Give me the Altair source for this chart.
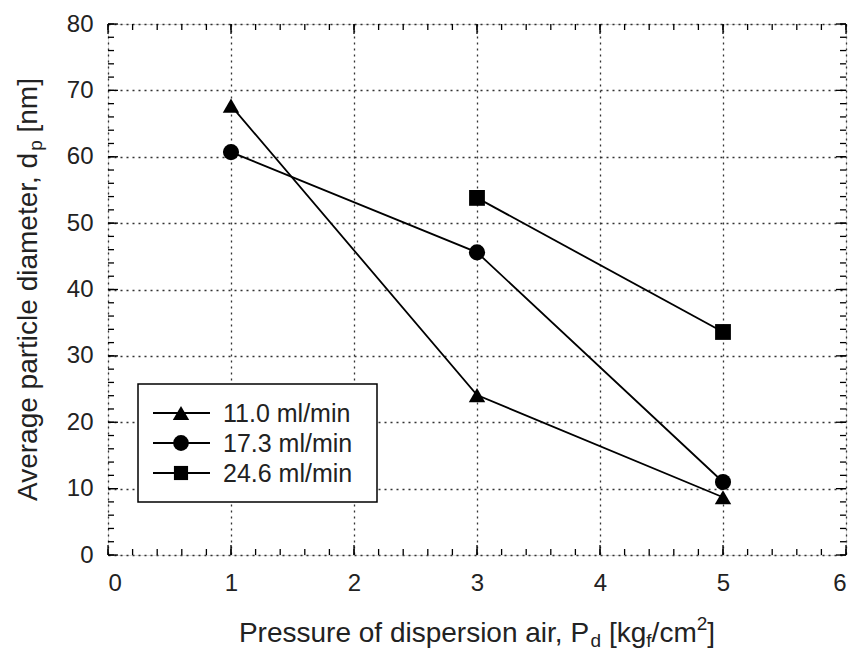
import altair as alt
import pandas as pd

# ---------------- data ----------------
series = ["11.0 ml/min", "17.3 ml/min", "24.6 ml/min"]
shapes = ["triangle-up", "circle", "square"]
p_tri = [1, 3, 5]
d_tri = [67.7, 24.1, 8.7]
p_circ = [1, 3, 5]
d_circ = [60.7, 45.6, 11.0]
p_sq = [3, 5]
d_sq = [53.8, 33.6]

x_major = [0, 1, 2, 3, 4, 5, 6]
y_major = [0, 10, 20, 30, 40, 50, 60, 70, 80]
x_minor = [i * 0.2 for i in range(31)]
y_minor = [i * 2 for i in range(41)]

# (text, kind, extra gap before the piece in em-thousandths)
x_title = [("Pressure of dispersion air, P", "n", 0), ("d", "sub", 0), ("[kg", "n", 278),
           ("f", "sub", 0), ("/cm", "n", 0), ("2", "sup", 0), ("]", "n", 0)]
y_title = [("Average particle diameter, d", "n", 0), ("p", "sub", 0), ("[nm]", "n", 278)]

rows = []
for name, ps, ds in [(series[0], p_tri, d_tri), (series[1], p_circ, d_circ), (series[2], p_sq, d_sq)]:
    for p, d in zip(ps, ds):
        rows.append({"series": name, "P": p, "d": d})
df = pd.DataFrame(rows)

# ---------------- layout ----------------
W, H = 738, 531
FONT = "Liberation Sans"
FS, SFS = 28, 19
TXT = "#222222"

CW = {' ': 278, ',': 278, '/': 278, '[': 278, ']': 278, '2': 556, 'A': 667, 'P': 667,
      'a': 556, 'c': 500, 'd': 556, 'e': 556, 'f': 278, 'g': 556, 'i': 222, 'k': 500,
      'l': 222, 'm': 833, 'n': 556, 'o': 556, 'p': 556, 'r': 333, 's': 500, 't': 278,
      'u': 556, 'v': 500}


def tw(s, fs):
    return sum(CW.get(c, 556) for c in s) * fs / 1000.0


xs = alt.Scale(domain=[0, 6], nice=False, zero=False)
ys = alt.Scale(domain=[0, 80], nice=False, zero=False)

xaxis = alt.Axis(values=x_major, title=None, domain=False, ticks=False, grid=True,
                 gridDash=[2, 4], gridColor="#333333", gridWidth=1.3,
                 labelFont=FONT, labelFontSize=24, labelColor=TXT, labelPadding=16,
                 format="d")
yaxis = alt.Axis(values=y_major, title=None, domain=False, ticks=False, grid=True,
                 gridDash=[2, 4], gridColor="#333333", gridWidth=1.3,
                 labelFont=FONT, labelFontSize=24, labelColor=TXT, labelPadding=15,
                 format="d")

lines = alt.Chart(df).mark_line(color="black", strokeWidth=1.8).encode(
    x=alt.X("P:Q", scale=xs, axis=xaxis),
    y=alt.Y("d:Q", scale=ys, axis=yaxis),
    detail="series:N",
)
points = alt.Chart(df).mark_point(filled=True, color="black", opacity=1).encode(
    x=alt.X("P:Q", scale=xs, axis=xaxis),
    y=alt.Y("d:Q", scale=ys, axis=yaxis),
    shape=alt.Shape("series:N", scale=alt.Scale(domain=series, range=shapes), legend=None),
    size=alt.Size("series:N", scale=alt.Scale(domain=series, range=[270, 250, 200]), legend=None),
)

layers = [lines, points]


# inward ticks (minor and major) on all four sides
def xticks(vals, length):
    d = pd.DataFrame({"P": vals})
    b = alt.Chart(d).mark_rule(color="black", strokeWidth=1.3).encode(
        x=alt.X("P:Q", scale=xs, axis=xaxis), y=alt.value(H), y2=alt.value(H - length))
    t = alt.Chart(d).mark_rule(color="black", strokeWidth=1.3).encode(
        x=alt.X("P:Q", scale=xs, axis=xaxis), y=alt.value(0), y2=alt.value(length))
    return [b, t]


def yticks(vals, length):
    d = pd.DataFrame({"d": vals})
    l = alt.Chart(d).mark_rule(color="black", strokeWidth=1.3).encode(
        y=alt.Y("d:Q", scale=ys, axis=yaxis), x=alt.value(0), x2=alt.value(length))
    r = alt.Chart(d).mark_rule(color="black", strokeWidth=1.3).encode(
        y=alt.Y("d:Q", scale=ys, axis=yaxis), x=alt.value(W), x2=alt.value(W - length))
    return [l, r]


layers += xticks(x_minor, 6) + xticks(x_major, 10) + yticks(y_minor, 6) + yticks(y_major, 10)

# legend box
one = pd.DataFrame({"a": [0]})
layers.append(alt.Chart(one).mark_rect(fill="white", stroke="black", strokeWidth=1.5).encode(
    x=alt.value(30), x2=alt.value(269), y=alt.value(360), y2=alt.value(478)))
for i, (name, shp) in enumerate(zip(series, shapes)):
    yy = 389 + 30 * i
    layers.append(alt.Chart(one).mark_rule(color="black", strokeWidth=1.8).encode(
        x=alt.value(45), x2=alt.value(102), y=alt.value(yy)))
    layers.append(alt.Chart(one).mark_point(filled=True, color="black", opacity=1,
                                            shape=shp, size=[270, 250, 200][i]).encode(
        x=alt.value(73), y=alt.value(yy)))
    layers.append(alt.Chart(pd.DataFrame({"t": [name]})).mark_text(
        align="left", baseline="middle", font=FONT, fontSize=25, color=TXT).encode(
        x=alt.value(115), y=alt.value(yy + 1), text="t:N"))


# axis titles with sub/superscripts
def piece_w(txt, kind, gap):
    fs = FS if kind == "n" else SFS
    return tw(txt, fs) + gap * fs / 1000.0


def title_layers(pieces, x0, y0, angle):
    out = []
    cum = 0.0
    for txt, kind, gap in pieces:
        fs = FS if kind == "n" else SFS
        cum += gap * fs / 1000.0
        shift = 0 if kind == "n" else (5 if kind == "sub" else -12)
        kw = dict(align="left", baseline="alphabetic", font=FONT, fontSize=fs, color=TXT,
                  dx=cum, dy=shift)
        if angle:
            kw["angle"] = angle
        out.append(alt.Chart(pd.DataFrame({"t": [txt]})).mark_text(**kw).encode(
            x=alt.value(x0), y=alt.value(y0), text="t:N"))
        cum += tw(txt, fs)
    return out


xt_total = sum(piece_w(*p) for p in x_title)
yt_total = sum(piece_w(*p) for p in y_title)
layers += title_layers(x_title, W / 2 - xt_total / 2, H + 87, 0)
layers += title_layers(y_title, -71, H / 2 + yt_total / 2, 270)

chart = alt.layer(*layers).properties(
    width=W, height=H,
    autosize=alt.AutoSizeParams(type="none"),
    padding={"left": 108, "top": 24, "right": 7, "bottom": 97},
).configure_view(stroke="black", strokeWidth=2).configure(background="white")

chart.save("out.html", embed_options={"renderer": "svg", "actions": False})
